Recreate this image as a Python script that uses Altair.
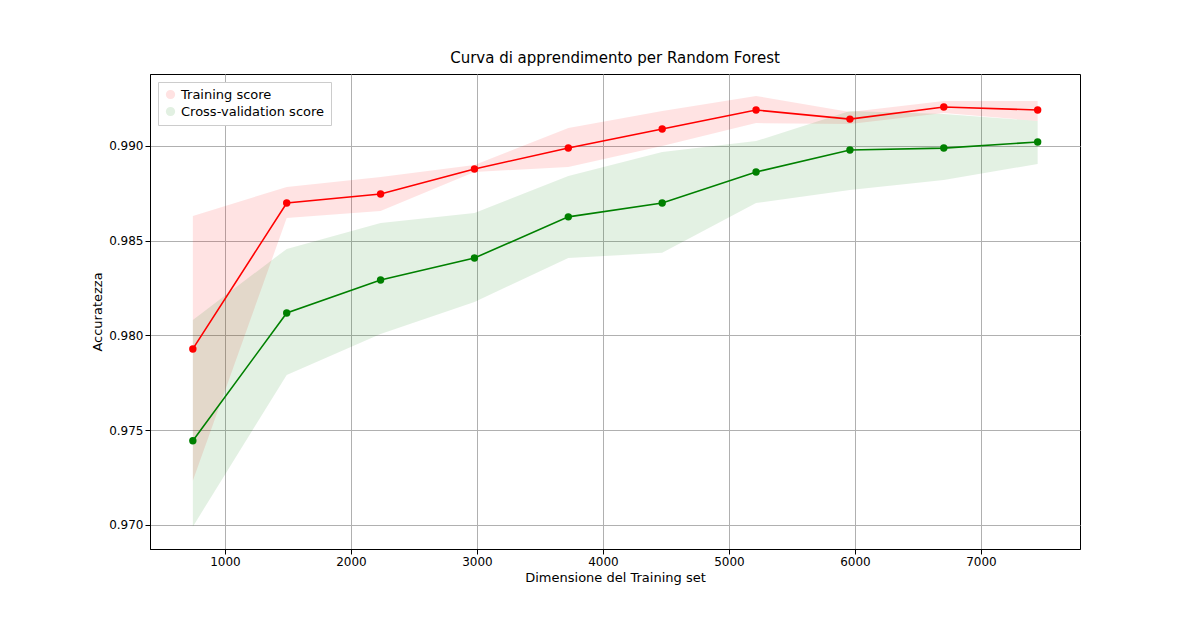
import altair as alt
import pandas as pd

sizes = [745, 1490, 2235, 2980, 3725, 4470, 5215, 5960, 6705, 7450]
train_mean = [0.97929, 0.98699, 0.98747, 0.98879, 0.98989, 0.99090, 0.99190, 0.99142, 0.99206, 0.99190]
train_hi = [0.98631, 0.98784, 0.98837, 0.98900, 0.99095, 0.99185, 0.99264, 0.99179, 0.99237, 0.99237]
train_lo = [0.97233, 0.98620, 0.98657, 0.98863, 0.98889, 0.99000, 0.99121, 0.99116, 0.99174, 0.99132]
cv_mean = [0.97444, 0.98119, 0.98293, 0.98409, 0.98626, 0.98699, 0.98863, 0.98979, 0.98989, 0.99021]
cv_hi = [0.98082, 0.98457, 0.98594, 0.98647, 0.98842, 0.98968, 0.99026, 0.99185, 0.99169, 0.99132]
cv_lo = [0.96991, 0.97792, 0.98008, 0.98177, 0.98409, 0.98436, 0.98699, 0.98768, 0.98821, 0.98905]

series = ["Training score", "Cross-validation score"]
df = pd.concat([
    pd.DataFrame({"n": sizes, "mean": train_mean, "hi": train_hi, "lo": train_lo, "serie": series[0]}),
    pd.DataFrame({"n": sizes, "mean": cv_mean, "hi": cv_hi, "lo": cv_lo, "serie": series[1]}),
])

ydom = alt.Scale(domain=[0.96873, 0.9938], nice=False, zero=False)
color = alt.Color("serie:N", scale=alt.Scale(domain=series, range=["red", "green"]),
                  legend=alt.Legend(title=None, orient="top-left", symbolType="circle",
                                    fillColor="white", strokeColor="#cccccc", padding=6,
                                    labelFontSize=13, symbolSize=60, offset=8))
x = alt.X("n:Q", title="Dimensione del Training set",
          scale=alt.Scale(domain=[405, 7786], nice=False, zero=False),
          axis=alt.Axis(values=list(range(1000, 8000, 1000)), format="d", grid=True, gridColor="#b0b0b0",
                        labelFontSize=12, titleFontSize=13, titleFontWeight="normal", tickColor="black", domainColor="black"))
y = alt.Y("mean:Q", title="Accuratezza", scale=ydom,
          axis=alt.Axis(values=[0.970, 0.975, 0.980, 0.985, 0.990], format=".3f", grid=True, gridColor="#b0b0b0",
                        labelFontSize=12, titleFontSize=13, titleFontWeight="normal", tickColor="black", domainColor="black"))

base = alt.Chart(df)
band = base.mark_area(opacity=0.11).encode(x=x, y=alt.Y("lo:Q", scale=ydom), y2="hi:Q", color=color, detail="serie:N")
line = base.mark_line(strokeWidth=1.6).encode(x=x, y=y, color=color)
pts = base.mark_circle(size=55, opacity=1).encode(x=x, y=y, color=color)

chart = alt.layer(band, line, pts).properties(
    width=930, height=475,
    title=alt.TitleParams("Curva di apprendimento per Random Forest", fontSize=15, fontWeight="normal", offset=8),
    autosize=alt.AutoSizeParams(type="none"),
    padding={"left": 142, "top": 66, "right": 112, "bottom": 60},
).configure(font="DejaVu Sans").configure_view(stroke="black", strokeWidth=1)

chart.save("out.html", embed_options={"renderer": "svg", "actions": False})
